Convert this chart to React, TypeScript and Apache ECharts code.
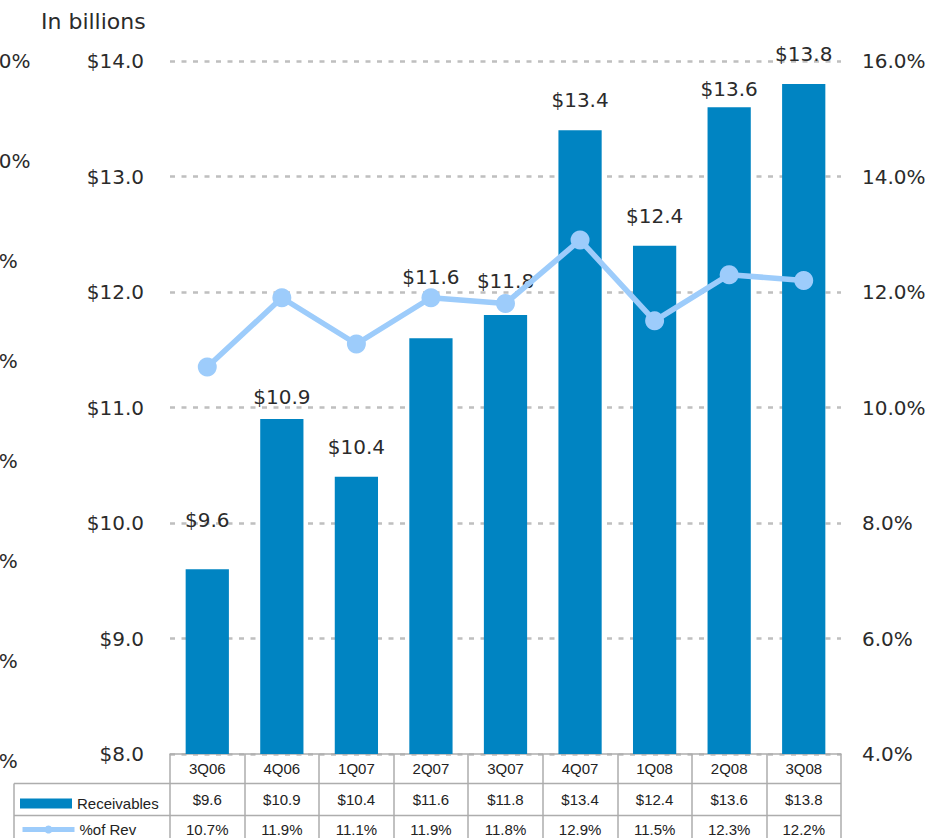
import React, { useEffect, useRef } from "react";
import * as echarts from "echarts";

const categories = ["3Q06", "4Q06", "1Q07", "2Q07", "3Q07", "4Q07", "1Q08", "2Q08", "3Q08"];
const receivables = [9.6, 10.9, 10.4, 11.6, 11.8, 13.4, 12.4, 13.6, 13.8];
const pctOfRev = [10.7, 11.9, 11.1, 11.9, 11.8, 12.9, 11.5, 12.3, 12.2];
const seriesNames = ["Receivables", "%of Rev"];
const unitTitle = "In billions";

// label nudges (style only)
const barLabelNudge = [-19, 8, 0, -31, -4, 0, 0, 12, 0];

const FONT = "DejaVu Sans";
const TABLE_FONT = "Liberation Sans";
const TXT = "#2b2b2b";
const LINE_C = "#adadad";
const BAR_C = "#0084C2";
const LINE_SERIES_C = "#9DCCFB";

export default function App() {
  const ref = useRef<HTMLDivElement>(null);
  useEffect(() => {
    if (!ref.current) return;
    const chart = echarts.init(ref.current, null, { renderer: "svg" });
    const gridLeft = 170;
    const gridRight = 947 - 841;
    const gridTop = 61;
    const gridBottom = 838 - 754;
    const legendText = { fontFamily: TABLE_FONT, fontSize: 15, color: "#222" };
    const option: any = {
      animation: false,
      title: {
        text: unitTitle,
        left: 36,
        top: 5,
        textStyle: { fontFamily: FONT, fontSize: 22, fontWeight: "normal", color: TXT },
      },
      legend: [
        {
          orient: "vertical",
          left: 15,
          top: 791,
          itemWidth: 52,
          itemHeight: 10,
          itemGap: 0,
          data: [{ name: seriesNames[0], icon: "rect" }],
          textStyle: legendText,
        },
        {
          orient: "vertical",
          left: 15,
          top: 817,
          itemWidth: 52,
          itemHeight: 10,
          itemGap: 0,
          data: [{ name: seriesNames[1] }],
          lineStyle: { width: 5 },
          textStyle: legendText,
        },
      ],
      grid: [
        { left: gridLeft, right: gridRight, top: gridTop, bottom: gridBottom },
        { left: 0, width: 10, top: 61, bottom: 838 - 761 },
      ],
      xAxis: [
        {
          type: "category",
          data: categories,
          gridIndex: 0,
          axisLine: { lineStyle: { color: LINE_C, width: 1.5 } },
          axisTick: { show: true, length: 84, lineStyle: { color: LINE_C, width: 1.5 } },
          axisLabel: {
            margin: 0,
            interval: 0,
            formatter: (value: string, index: number) =>
              `{c|${value}}\n{v|$${receivables[index].toFixed(1)}}\n{p|${pctOfRev[index].toFixed(1)}%}`,
            rich: {
              c: { fontFamily: TABLE_FONT, fontSize: 15, color: "#222", lineHeight: 29 },
              v: { fontFamily: TABLE_FONT, fontSize: 15, color: "#222", lineHeight: 33 },
              p: { fontFamily: TABLE_FONT, fontSize: 15, color: "#222", lineHeight: 27 },
            },
          },
        },
        { type: "value", gridIndex: 1, show: false, min: 0, max: 1 },
      ],
      yAxis: [
        {
          type: "value",
          gridIndex: 0,
          position: "left",
          min: 8,
          max: 14,
          interval: 1,
          axisLine: { show: false },
          axisTick: { show: false },
          axisLabel: {
            margin: 26,
            formatter: (v: number) => `$${v.toFixed(1)}`,
            fontFamily: FONT,
            fontSize: 20,
            color: TXT,
          },
          splitLine: { lineStyle: { color: "#bfbfbf", width: 2.5, type: [5, 6.5] } },
        },
        {
          type: "value",
          gridIndex: 0,
          position: "right",
          min: 4,
          max: 16,
          interval: 2,
          axisLine: { show: false },
          axisTick: { show: false },
          splitLine: { show: false },
          axisLabel: {
            margin: 21,
            formatter: (v: number) => `${v.toFixed(1)}%`,
            fontFamily: FONT,
            fontSize: 20,
            color: TXT,
          },
        },
        {
          type: "value",
          gridIndex: 1,
          position: "left",
          min: 4,
          max: 11,
          interval: 1,
          axisLine: { show: false },
          axisTick: { show: false },
          splitLine: { show: false },
          axisLabel: {
            margin: 43,
            align: "left",
            formatter: (v: number) => `${v.toFixed(1)}%`,
            fontFamily: FONT,
            fontSize: 20,
            color: TXT,
          },
        },
      ],
      series: [
        {
          name: seriesNames[0],
          type: "bar",
          xAxisIndex: 0,
          yAxisIndex: 0,
          barCategoryGap: "42%",
          itemStyle: { color: BAR_C },
          data: receivables.map((v, i) => ({
            value: v,
            label: { offset: [0, barLabelNudge[i]] },
          })),
          label: {
            show: true,
            position: "top",
            distance: 20,
            formatter: (p: any) => `$${Number(p.value).toFixed(1)}`,
            fontFamily: FONT,
            fontSize: 20,
            color: TXT,
          },
          z: 2,
        },
        {
          name: seriesNames[1],
          type: "line",
          xAxisIndex: 0,
          yAxisIndex: 1,
          data: pctOfRev,
          symbol: "circle",
          symbolSize: 19,
          lineStyle: { color: LINE_SERIES_C, width: 5.5 },
          itemStyle: { color: LINE_SERIES_C },
          z: 3,
        },
      ],
      graphic: [
        {
          type: "line",
          shape: { x1: 14, y1: 783.5, x2: 841, y2: 783.5 },
          style: { stroke: LINE_C, lineWidth: 1.5 },
        },
        {
          type: "line",
          shape: { x1: 14, y1: 815.5, x2: 841, y2: 815.5 },
          style: { stroke: LINE_C, lineWidth: 1.5 },
        },
        {
          type: "line",
          shape: { x1: 14, y1: 783.5, x2: 14, y2: 838 },
          style: { stroke: LINE_C, lineWidth: 1.5 },
        },
      ],
    };
    chart.setOption(option);
    return () => chart.dispose();
  }, []);
  return (
    <div
      ref={ref}
      style={{ position: "absolute", left: 0, top: 0, width: 947, height: 838, background: "#fff" }}
    />
  );
}
